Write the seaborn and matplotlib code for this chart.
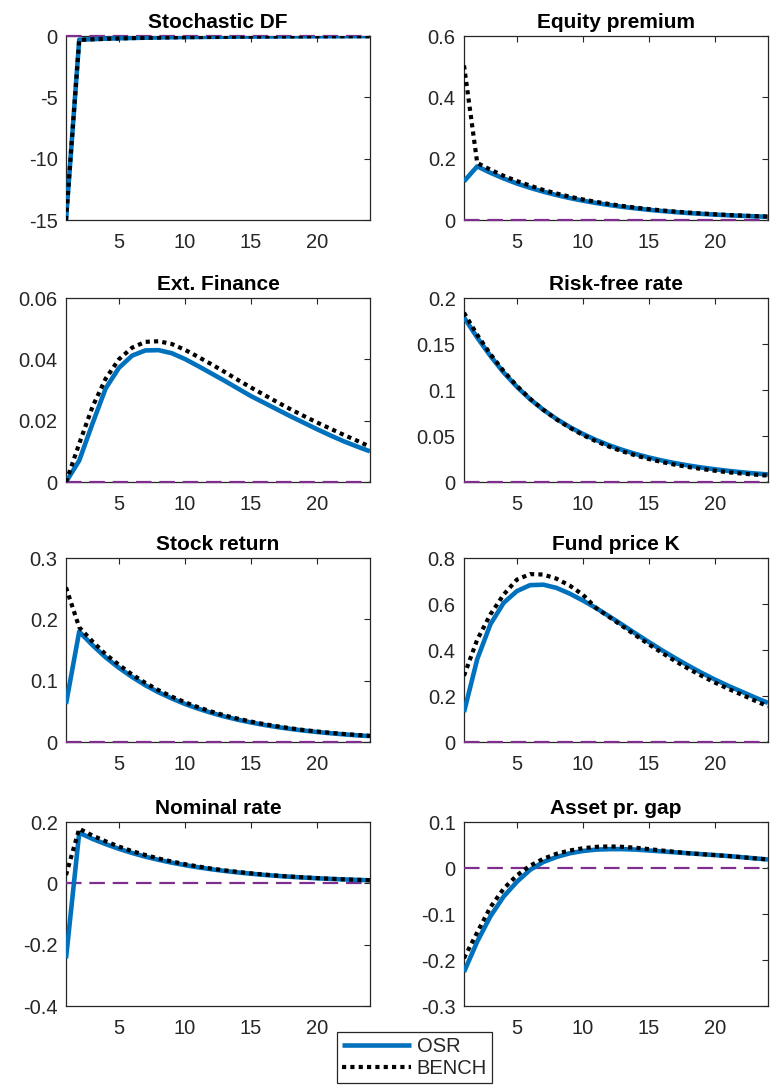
import numpy as np
import pandas as pd
import matplotlib
matplotlib.use("Agg")
import matplotlib.pyplot as plt
import seaborn as sns

periods = list(range(1, 25))

titles = ["Stochastic DF", "Equity premium", "Ext. Finance", "Risk-free rate",
          "Stock return", "Fund price K", "Nominal rate", "Asset pr. gap"]

sdf_osr = [-15.0, -0.30, -0.26, -0.22, -0.19, -0.16, -0.14, -0.12, -0.10, -0.09, -0.08, -0.07,
           -0.06, -0.05, -0.045, -0.04, -0.035, -0.03, -0.026, -0.023, -0.02, -0.017, -0.015, -0.013]
sdf_bench = [-15.0, -0.32, -0.27, -0.23, -0.20, -0.17, -0.15, -0.13, -0.11, -0.095, -0.085, -0.075,
             -0.065, -0.055, -0.048, -0.042, -0.037, -0.032, -0.028, -0.024, -0.021, -0.018, -0.016, -0.014]

eqp_osr = [0.126, 0.175, 0.154, 0.1355, 0.119, 0.105, 0.0924, 0.0813, 0.0716, 0.063, 0.0554, 0.0488,
           0.0429, 0.0378, 0.0332, 0.0292, 0.0257, 0.0226, 0.0199, 0.0175, 0.0154, 0.0136, 0.0119, 0.0105]
eqp_bench = [0.504, 0.186, 0.164, 0.144, 0.127, 0.112, 0.098, 0.0865, 0.076, 0.067, 0.059, 0.052,
             0.0457, 0.0402, 0.0354, 0.0311, 0.0274, 0.0241, 0.0212, 0.0187, 0.0164, 0.0145, 0.0127, 0.0112]

ext_osr = [0.0, 0.0070, 0.0190, 0.0305, 0.0372, 0.0412, 0.0429, 0.0430, 0.0420, 0.0401, 0.0378, 0.0354,
           0.0330, 0.0305, 0.0280, 0.0258, 0.0236, 0.0214, 0.0193, 0.0172, 0.0152, 0.0133, 0.0116, 0.0100]
ext_bench = [0.0, 0.0125, 0.0245, 0.0337, 0.0400, 0.0438, 0.0457, 0.0459, 0.0450, 0.0431, 0.0408, 0.0384,
             0.0359, 0.0333, 0.0308, 0.0284, 0.0260, 0.0237, 0.0215, 0.0194, 0.0174, 0.0154, 0.0135, 0.0115]

rf_osr = [0.179, 0.157, 0.137, 0.119, 0.1035, 0.090, 0.0785, 0.0685, 0.0598, 0.0522, 0.0456, 0.0398,
          0.0348, 0.0304, 0.0266, 0.0233, 0.0204, 0.0179, 0.0157, 0.0138, 0.0121, 0.0106, 0.0093, 0.0082]
rf_bench = [0.184, 0.160, 0.139, 0.1205, 0.1045, 0.0905, 0.0785, 0.068, 0.059, 0.051, 0.0442, 0.0383,
            0.0332, 0.0288, 0.0249, 0.0216, 0.0187, 0.0162, 0.0141, 0.0122, 0.0106, 0.0092, 0.0080, 0.0069]

sr_osr = [0.062, 0.180, 0.158, 0.138, 0.121, 0.106, 0.0925, 0.081, 0.071, 0.062, 0.0543, 0.0475,
          0.0415, 0.0363, 0.0318, 0.0278, 0.0243, 0.0213, 0.0186, 0.0163, 0.0143, 0.0125, 0.0109, 0.0096]
sr_bench = [0.252, 0.187, 0.164, 0.143, 0.126, 0.110, 0.0965, 0.0845, 0.074, 0.0648, 0.0567, 0.0496,
            0.0434, 0.038, 0.0333, 0.0291, 0.0255, 0.0223, 0.0195, 0.0171, 0.0150, 0.0131, 0.0115, 0.0100]

fpk_osr = [0.130, 0.360, 0.512, 0.605, 0.656, 0.682, 0.684, 0.670, 0.645, 0.615, 0.582, 0.546,
           0.509, 0.471, 0.434, 0.398, 0.364, 0.331, 0.300, 0.271, 0.244, 0.219, 0.194, 0.170]
fpk_bench = [0.288, 0.445, 0.555, 0.641, 0.706, 0.730, 0.728, 0.710, 0.680, 0.640, 0.582, 0.543,
             0.503, 0.463, 0.424, 0.387, 0.351, 0.318, 0.287, 0.258, 0.231, 0.206, 0.180, 0.155]

nom_osr = [-0.245, 0.165, 0.145, 0.128, 0.1125, 0.099, 0.087, 0.0766, 0.0674, 0.0593, 0.0522, 0.0459,
           0.0404, 0.0356, 0.0313, 0.0275, 0.0242, 0.0213, 0.0188, 0.0165, 0.0145, 0.0128, 0.0113, 0.0099]
nom_bench = [0.027, 0.178, 0.156, 0.137, 0.120, 0.105, 0.0925, 0.081, 0.0712, 0.0625, 0.0549, 0.0482,
             0.0423, 0.0372, 0.0326, 0.0286, 0.0251, 0.0221, 0.0194, 0.0170, 0.0149, 0.0131, 0.0115, 0.0101]

apg_osr = [-0.226, -0.160, -0.105, -0.062, -0.030, -0.004, 0.013, 0.024, 0.032, 0.037, 0.040, 0.041,
           0.041, 0.040, 0.038, 0.036, 0.034, 0.032, 0.030, 0.028, 0.026, 0.0235, 0.021, 0.0185]
apg_bench = [-0.196, -0.140, -0.085, -0.045, -0.016, 0.005, 0.020, 0.031, 0.038, 0.043, 0.046, 0.047,
             0.046, 0.044, 0.041, 0.038, 0.035, 0.032, 0.030, 0.028, 0.026, 0.0235, 0.021, 0.0185]

osr_series = [sdf_osr, eqp_osr, ext_osr, rf_osr, sr_osr, fpk_osr, nom_osr, apg_osr]
bench_series = [sdf_bench, eqp_bench, ext_bench, rf_bench, sr_bench, fpk_bench, nom_bench, apg_bench]

ylims = [(-15, 0), (0, 0.6), (0, 0.06), (0, 0.2), (0, 0.3), (0, 0.8), (-0.4, 0.2), (-0.3, 0.1)]
yticks = [[-15, -10, -5, 0], [0, 0.2, 0.4, 0.6], [0, 0.02, 0.04, 0.06], [0, 0.05, 0.1, 0.15, 0.2],
          [0, 0.1, 0.2, 0.3], [0, 0.2, 0.4, 0.6, 0.8], [-0.4, -0.2, 0, 0.2], [-0.3, -0.2, -0.1, 0, 0.1]]
xticks = [5, 10, 15, 20]
legend_labels = ["OSR", "BENCH"]

sns.set_theme(style="white")
plt.rcParams["font.family"] = ["Liberation Sans", "DejaVu Sans"]
plt.rcParams["axes.unicode_minus"] = False

W, H = 774, 1086
fig = plt.figure(figsize=(W / 100, H / 100), dpi=100)

col_left = [66, 464]
ax_w = 304
row_top = [36, 298, 558, 822]
ax_h = 184

blue = "#0072BD"
purple = "#7E2F8E"
dark = "#262626"

handles = None
for i in range(8):
    r, c = divmod(i, 2)
    x0 = col_left[c]
    y0 = row_top[r]
    ax = fig.add_axes([x0 / W, 1 - (y0 + ax_h) / H, ax_w / W, ax_h / H])
    ax.set_facecolor("white")
    ax.axhline(0, color=purple, lw=1.6, dashes=(7, 3.5), zorder=2.6, clip_on=False)
    df = pd.DataFrame({"t": periods, "osr": osr_series[i], "bench": bench_series[i]})
    sns.lineplot(data=df, x="t", y="osr", ax=ax, color=blue, lw=3.3, zorder=3,
                 solid_capstyle="butt", label=legend_labels[0], legend=False)
    sns.lineplot(data=df, x="t", y="bench", ax=ax, color="black", lw=3.0, zorder=4,
                 label=legend_labels[1], legend=False)
    ax.lines[-1].set_dashes((1, 1))
    ax.lines[-1].set_dash_capstyle("butt")
    if handles is None:
        handles = [ax.lines[-2], ax.lines[-1]]
    ax.set_xlim(1, 24)
    ax.set_ylim(*ylims[i])
    ax.set_xticks(xticks)
    ax.set_xticklabels([f"{v:g}" for v in xticks])
    ax.set_yticks(yticks[i])
    ax.set_yticklabels([f"{v:g}" for v in yticks[i]])
    ax.set_xlabel("")
    ax.set_ylabel("")
    ax.set_title(titles[i], fontsize=15, fontweight="bold", pad=6, color="black")
    ax.tick_params(axis="both", which="major", direction="in", length=4, width=0.8,
                   colors=dark, labelsize=14.5, top=True, right=True,
                   labeltop=False, labelright=False)
    ax.tick_params(axis="x", pad=9.5)
    ax.tick_params(axis="y", pad=6)
    for sp in ax.spines.values():
        sp.set_color(dark)
        sp.set_linewidth(0.9)
        sp.set_visible(True)

leg = fig.legend(handles, legend_labels, loc="upper left",
                 bbox_to_anchor=(337 / W, 1 - 1032 / H), borderaxespad=0,
                 frameon=True, fancybox=False, edgecolor=dark, facecolor="white",
                 fontsize=14.5, handlelength=3.4, handletextpad=0.3, borderpad=0.25,
                 labelspacing=0.15, framealpha=1)
leg.get_frame().set_linewidth(0.9)

fig.savefig("out.png", dpi=100, facecolor="white")
